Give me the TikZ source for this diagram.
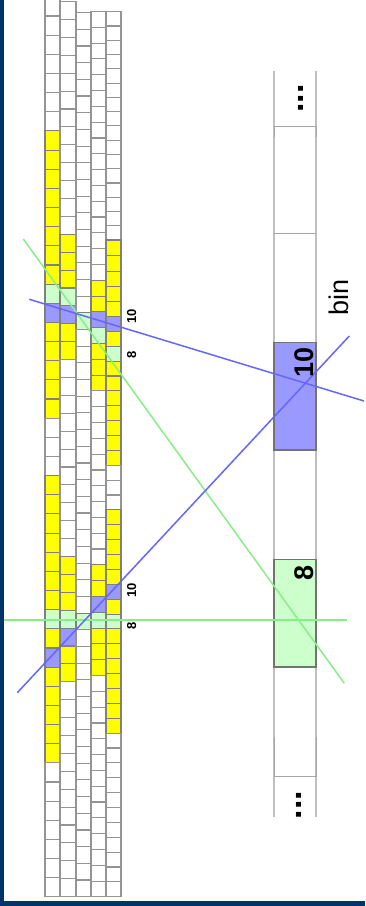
\documentclass[tikz,border=0pt]{standalone}
\usepackage{fontspec}
\setmainfont{Liberation Sans}
\usepackage{tikz}
\definecolor{navyedge}{HTML}{003366}
\definecolor{binblue}{HTML}{9999FF}
\definecolor{bingreen}{HTML}{CCFFCC}
\definecolor{binyellow}{HTML}{FFFF00}
\definecolor{lineblue}{HTML}{6666FF}
\definecolor{linegreen}{HTML}{88EE88}
\newcommand{\cellrun}[7]{\foreach \k in {#5,...,#6} \draw[#7] ({#1},{#3+\k*#4}) rectangle ({#2},{#3+(\k+1)*#4});}
\tikzset{
  cellplain/.style={draw=black!42,line width=1.1pt,fill=white},
  cellyellow/.style={draw=black!50,line width=1.1pt,fill=binyellow},
  cellblue/.style={draw=black!50,line width=1.1pt,fill=binblue},
  cellgreen/.style={draw=black!50,line width=1.1pt,fill=bingreen},
  rail/.style={draw=black!25,line width=1.2pt},
  binedge/.style={draw=black!35,line width=1pt},
  binbox/.style={draw=black!55,line width=1.1pt},
  sweepblue/.style={draw=lineblue,line width=1.5pt},
  sweepgreen/.style={draw=linegreen,line width=1.5pt},
  smallnum/.style={rotate=90,anchor=base,inner sep=0pt,font=\fontsize{13}{13}\selectfont\bfseries},
  bignum/.style={rotate=90,anchor=base,inner sep=0pt,font=\fontsize{27}{27}\selectfont\bfseries},
  gapdots/.style={rotate=90,anchor=base,inner sep=0pt,font=\fontsize{34}{34}\selectfont\bfseries}
}

\begin{document}
\begin{tikzpicture}[x=1pt,y=-1pt]
  \useasboundingbox (0,0) rectangle (365,906);
  \clip (0,0) rectangle (365,906);
  \fill[white] (0,0) rectangle (365,906);
  % first column
  \cellrun{45}{60}{16}{19.15}{-1}{5}{cellplain}
  \cellrun{45}{60}{16}{19.15}{6}{13}{cellyellow}
  \cellrun{45}{60}{16}{19.15}{14}{14}{cellgreen}
  \cellrun{45}{60}{16}{19.15}{15}{15}{cellblue}
  \cellrun{45}{60}{16}{19.15}{16}{20}{cellyellow}
  \cellrun{45}{60}{16}{19.15}{21}{23}{cellplain}
  \cellrun{45}{60}{16}{19.15}{24}{30}{cellyellow}
  \cellrun{45}{60}{16}{19.15}{31}{31}{cellgreen}
  \cellrun{45}{60}{16}{19.15}{32}{32}{cellyellow}
  \cellrun{45}{60}{16}{19.15}{33}{33}{cellblue}
  \cellrun{45}{60}{16}{19.15}{34}{38}{cellyellow}
  \cellrun{45}{60}{16}{19.15}{39}{45}{cellplain}
  % second column
  \cellrun{60}{76}{19.5}{17.9}{-1}{11}{cellplain}
  \cellrun{60}{76}{19.5}{17.9}{12}{14}{cellyellow}
  \cellrun{60}{76}{19.5}{17.9}{15}{15}{cellgreen}
  \cellrun{60}{76}{19.5}{17.9}{16}{16}{cellblue}
  \cellrun{60}{76}{19.5}{17.9}{17}{18}{cellyellow}
  \cellrun{60}{76}{19.5}{17.9}{19}{29}{cellplain}
  \cellrun{60}{76}{19.5}{17.9}{30}{32}{cellyellow}
  \cellrun{60}{76}{19.5}{17.9}{33}{33}{cellgreen}
  \cellrun{60}{76}{19.5}{17.9}{34}{34}{cellblue}
  \cellrun{60}{76}{19.5}{17.9}{35}{36}{cellyellow}
  \cellrun{60}{76}{19.5}{17.9}{37}{48}{cellplain}
  % third column
  \cellrun{76}{91}{29.3}{16.68}{-1}{16}{cellplain}
  \cellrun{76}{91}{29.3}{16.68}{17}{17}{cellgreen}
  \cellrun{76}{91}{29.3}{16.68}{18}{34}{cellplain}
  \cellrun{76}{91}{29.3}{16.68}{35}{35}{cellgreen}
  \cellrun{76}{91}{29.3}{16.68}{36}{51}{cellplain}
  % fourth column
  \cellrun{91}{106}{27.3}{15.81}{-1}{15}{cellplain}
  \cellrun{91}{106}{27.3}{15.81}{16}{17}{cellyellow}
  \cellrun{91}{106}{27.3}{15.81}{18}{18}{cellblue}
  \cellrun{91}{106}{27.3}{15.81}{19}{19}{cellgreen}
  \cellrun{91}{106}{27.3}{15.81}{20}{22}{cellyellow}
  \cellrun{91}{106}{27.3}{15.81}{23}{33}{cellplain}
  \cellrun{91}{106}{27.3}{15.81}{34}{35}{cellyellow}
  \cellrun{91}{106}{27.3}{15.81}{36}{36}{cellblue}
  \cellrun{91}{106}{27.3}{15.81}{37}{37}{cellgreen}
  \cellrun{91}{106}{27.3}{15.81}{38}{40}{cellyellow}
  \cellrun{91}{106}{27.3}{15.81}{41}{54}{cellplain}
  % fifth column
  \cellrun{106}{121}{26}{14.27}{-1}{14}{cellplain}
  \cellrun{106}{121}{6.45}{15.57}{15}{17}{cellyellow}
  \cellrun{106}{121}{18.86}{14.88}{18}{19}{cellyellow}
  \cellrun{106}{121}{18.86}{14.88}{20}{20}{cellblue}
  \cellrun{106}{121}{18.86}{14.88}{21}{21}{cellyellow}
  \cellrun{106}{121}{18.86}{14.88}{22}{22}{cellgreen}
  \cellrun{106}{121}{18.86}{14.88}{23}{29}{cellyellow}
  \cellrun{106}{121}{18.86}{14.88}{30}{32}{cellplain}
  \cellrun{106}{121}{18.86}{14.88}{33}{37}{cellyellow}
  \cellrun{106}{121}{18.86}{14.88}{38}{38}{cellblue}
  \cellrun{106}{121}{18.86}{14.88}{39}{39}{cellyellow}
  \cellrun{106}{121}{18.86}{14.88}{40}{40}{cellgreen}
  \cellrun{106}{121}{18.86}{14.88}{41}{47}{cellyellow}
  \cellrun{106}{121}{18.86}{14.88}{48}{58}{cellplain}
  % bin strip
  \draw[rail] (274,70.5) -- (274,817);
  \draw[rail] (316,70.5) -- (316,817);
  \draw[binedge] (274,137) -- (274,126) -- (316,126) -- (316,137);
  \draw[binedge] (274,233.5) -- (316,233.5);
  \draw[binedge] (274,737) -- (274,776) -- (316,776) -- (316,737);
  \draw[binbox,fill=binblue] (274,342.5) rectangle (316,450);
  \draw[binbox,fill=bingreen] (274,559.5) rectangle (316,667);
  % sweep lines
  \coordinate (blueAstart) at (29.3,299.3);
  \coordinate (blueAend) at (364,401);
  \coordinate (blueBstart) at (17.3,692.7);
  \coordinate (blueBend) at (349.3,336);
  \coordinate (greenAstart) at (23.3,239);
  \coordinate (greenAend) at (344.3,683.3);
  \coordinate (greenBstart) at (4,619.5);
  \coordinate (greenBend) at (346.7,619.5);
  \draw[sweepgreen] (greenAstart) -- (greenAend);
  \draw[sweepgreen,line width=2pt] (greenBstart) -- (greenBend);
  \draw[sweepblue] (blueAstart) -- (blueAend);
  \draw[sweepblue] (blueBstart) -- (blueBend);
  % page edge
  \fill[navyedge] (0,0) rectangle (4,906);
  \fill[navyedge] (0,900.5) rectangle (365,906);
  % labels
  \node[smallnum] (numTopTen) at (136,316) {10};
  \node[smallnum] (numTopEight) at (136,354.6) {8};
  \node[smallnum] (numLowTen) at (136,590) {10};
  \node[smallnum] (numLowEight) at (136,625.5) {8};
  \node[bignum] (binTen) at (313,362) {10};
  \node[bignum] (binEight) at (313,572.5) {8};
  \node[gapdots] (dotsTop) at (303,98.5) {...};
  \node[gapdots] (dotsLow) at (301.5,805) {...};
  \node[rotate=90,anchor=base,inner sep=0pt,font=\fontsize{27}{27}\selectfont] (binLabel) at (348,297.5) {bin};
\end{tikzpicture}
\end{document}
